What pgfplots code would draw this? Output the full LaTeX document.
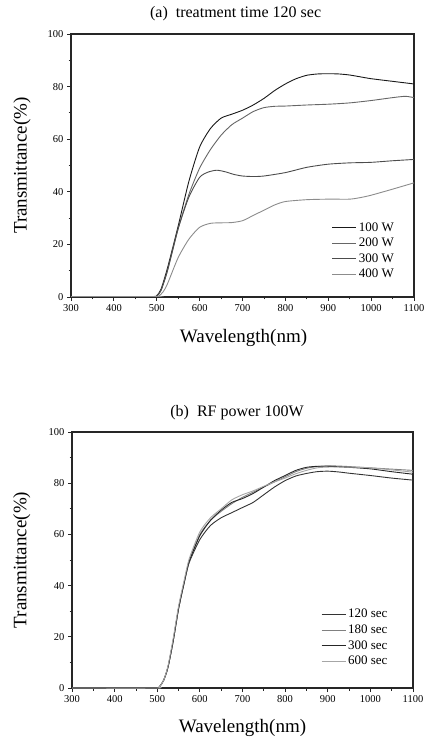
\documentclass[border=0pt]{standalone}
\usepackage{fontspec}
\setmainfont{Liberation Serif}
\usepackage{pgfplots}
\usepackage{pgfplotstable}
\pgfplotsset{compat=1.18}

\pgfplotstableread{
x y
300 0.2
490 0.2
500 0.5
510 3
525 11
550 27
575 44
600 57
625 64
650 68
675 69.5
700 71
725 73
750 75.5
775 78.5
800 81
825 83
850 84.3
875 84.8
900 84.9
925 84.8
950 84.4
975 83.7
1000 83
1050 82
1100 81
}\aone
\pgfplotstableread{
x y
300 0.2
490 0.2
500 0.4
510 2.5
525 10
550 26
575 39
600 49
625 56
650 61.5
675 65.5
700 68
725 70.5
750 72
775 72.5
800 72.6
850 73
900 73.3
950 73.8
1000 74.7
1050 75.8
1080 76.3
1100 75.8
}\atwo
\pgfplotstableread{
x y
300 0.2
490 0.2
500 0.4
510 2.5
525 10
550 26
575 38
600 45.5
620 47.5
640 48.2
660 47.6
680 46.6
700 46
725 45.8
750 46
800 47.3
850 49.3
900 50.5
950 51
1000 51.2
1050 51.8
1100 52.3
}\athree
\pgfplotstableread{
x y
300 0.2
495 0.2
505 0.4
515 2
525 5
550 15
575 22
600 26.5
625 28
650 28.2
675 28.3
700 29
725 31
750 33
775 35
800 36.3
850 37
900 37.2
950 37.2
975 37.8
1000 38.7
1050 41
1100 43.4
}\afour

\pgfplotstableread{
x y
300 0
495 0
505 0.5
515 3
525 8
537 18
550 31
563 41
575 49
600 58
625 63.5
650 66.5
675 68.5
700 70.5
725 72.5
750 75.5
775 78.5
800 81
825 82.8
850 83.8
875 84.5
900 84.7
925 84.4
950 83.9
1000 83
1050 82
1100 81.2
}\bone
\pgfplotstableread{
x y
300 0
495 0
505 0.5
515 3
525 8
537 18
550 31
563 41
575 49.5
600 60
625 65.5
650 69
675 72
700 74.5
725 76.5
750 78.5
775 80.5
800 82.5
825 84.5
850 85.8
875 86.5
900 86.8
925 86.7
950 86.5
1000 86
1050 85.5
1100 85
}\btwo
\pgfplotstableread{
x y
300 0
495 0
505 0.5
515 3
525 8
537 18
550 31
563 41
575 49.5
600 59.5
625 65.5
650 69.5
675 72.5
700 74
725 76
750 78.5
775 81
800 83
825 85
850 86.2
875 86.6
900 86.6
950 86.2
1000 85.6
1050 84.5
1100 83.5
}\bthree
\pgfplotstableread{
x y
300 0
495 0
505 0.5
515 3
525 8.5
537 19
550 32
563 42
575 50.5
600 61
625 66.5
650 70
675 73.5
700 75.5
725 77
750 78.8
775 80.5
800 82
825 83.7
850 85
875 86
900 86.3
950 86.3
1000 86
1050 85.2
1100 84.3
}\bfour

\pgfplotsset{
  myaxis/.style={
    scale only axis,
    xmin=300, xmax=1100, ymin=0, ymax=100,
    xtick={300,400,...,1100},
    ytick={0,20,...,100},
    minor x tick num=1,
    minor y tick num=1,
    xtick pos=left, ytick pos=left,
    tick align=outside,
    major tick length=4pt,
    minor tick length=2.5pt,
    axis line style={line width=1.1pt, black!85},
    every tick/.style={black!85, line width=0.8pt},
    tick label style={font=\fontsize{10.5}{12}\selectfont},
    /pgf/number format/assume math mode=true,
    /pgf/number format/1000 sep={},
    every axis y label/.style={rotate=90, anchor=center, font=\fontsize{19}{22}\selectfont},
    every axis x label/.style={anchor=center, font=\fontsize{19}{22}\selectfont},
    every axis title/.style={anchor=center, font=\fontsize{16}{19}\selectfont},
    legend style={draw=none, fill=none, font=\fontsize{13}{15}\selectfont,
      inner sep=0pt, row sep=1.5pt, anchor=north west},
    legend cell align=left,
    legend image code/.code={\draw[#1] (0pt,0pt) -- (24pt,0pt);},
    ylabel={Transmittance(\%)},
    xlabel={Wavelength(nm)},
    every axis plot/.append style={smooth, tension=0.4},
  }
}

\begin{document}
\begin{tikzpicture}
\useasboundingbox (0pt,0pt) rectangle (428pt,743pt);
\begin{axis}[myaxis,
  at={(71pt,446pt)}, anchor=south west,
  width=343pt, height=263pt,
  title={(a)\ \ treatment time 120 sec},
  title style={at={(axis description cs:0.48,1.076)}},
  ylabel style={at={(axis description cs:-0.143,0.5)}},
  xlabel style={at={(axis description cs:0.503,-0.156)}},
  legend style={at={(rel axis cs:0.76,0.292)}},
]
\addplot[black!90, line width=0.9pt] table {\aone};
\addplot[black!60, line width=0.9pt] table {\atwo};
\addplot[black!70, line width=0.9pt] table {\athree};
\addplot[black!45, line width=0.9pt] table {\afour};
\legend{100 W,200 W,300 W,400 W}
\end{axis}

\begin{axis}[myaxis,
  at={(72pt,55pt)}, anchor=south west,
  width=341pt, height=256pt,
  title={(b)\ \ RF power 100W},
  title style={at={(axis description cs:0.484,1.074)}},
  ylabel style={at={(axis description cs:-0.147,0.5)}},
  xlabel style={at={(axis description cs:0.5,-0.156)}},
  legend style={at={(rel axis cs:0.73,0.316)}},
]
\addplot[black!80, line width=0.9pt] table {\bone};
\addplot[black!50, line width=0.9pt] table {\btwo};
\addplot[black!85, line width=0.9pt] table {\bthree};
\addplot[black!35, line width=0.9pt] table {\bfour};
\legend{120 sec,180 sec,300 sec,600 sec}
\end{axis}
\end{tikzpicture}
\end{document}
